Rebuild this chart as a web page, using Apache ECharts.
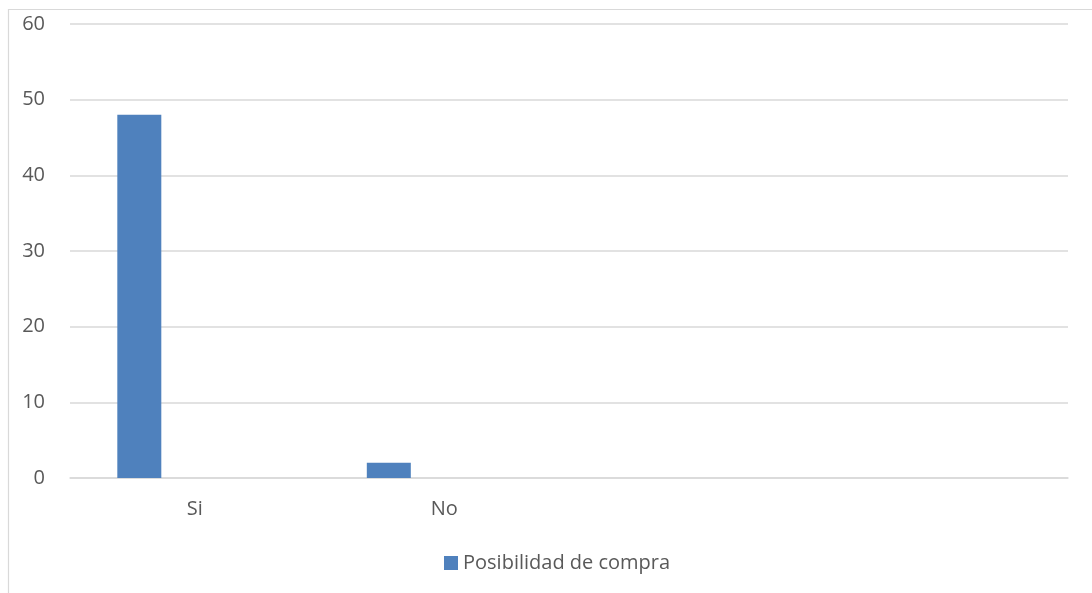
<!DOCTYPE html>
<html>
<head>
<meta charset="utf-8">
<script src="https://cdn.jsdelivr.net/npm/echarts@6/dist/echarts.min.js"></script>
<style>
  html, body { margin: 0; padding: 0; background: #fff; }
  #chart { width: 1092px; height: 593px; }
</style>
</head>
<body>
<div id="chart"></div>
<script>
// datos
var categorias = ['Si', 'No', '', ''];
var posibilidad = [48, 2, null, null];
var vacia = [null, null, null, null];
var yTicks = { min: 0, max: 60, interval: 10 };

var myChart = echarts.init(document.getElementById('chart'));

var textColor = '#595959';
var lineColor = '#d9d9d9';

option = {
	animation: false,
	textStyle: { fontFamily: 'Open Sans' },
	graphic: [{
		type: 'rect',
		shape: { x: 8.5, y: 9.5, width: 1300, height: 800 },
		style: { fill: 'none', stroke: lineColor, lineWidth: 1.2 },
		silent: true
	}],
	legend: {
		data: ['Posibilidad de compra'],
		bottom: 15,
		left: 439,
		itemWidth: 14,
		itemHeight: 14,
		itemGap: 6,
		icon: 'rect',
		textStyle: { color: textColor, fontSize: 20, fontFamily: 'Open Sans' }
	},
	grid: {
		left: 70,
		right: 24,
		top: 24,
		bottom: 115,
		containLabel: false
	},
	xAxis: {
		type: 'category',
		data: categorias,
		axisTick: { show: false },
		axisLine: { lineStyle: { color: lineColor, width: 1.5 } },
		axisLabel: { color: textColor, fontSize: 20, margin: 21 }
	},
	yAxis: {
		type: 'value',
		min: yTicks.min,
		max: yTicks.max,
		interval: yTicks.interval,
		axisLine: { show: false },
		axisTick: { show: false },
		axisLabel: { color: textColor, fontSize: 20, margin: 25 },
		splitLine: { lineStyle: { color: lineColor, width: 1.5 } }
	},
	series: [{
		name: 'Posibilidad de compra',
		type: 'bar',
		data: posibilidad,
		barWidth: 44,
		barGap: '152%',
		itemStyle: { color: '#4f81bd' }
	}, {
		name: 'vacia',
		type: 'bar',
		data: vacia,
		barWidth: 44,
		itemStyle: { color: '#c0504d' }
	}]
};

myChart.setOption(option);
</script>
</body>
</html>
